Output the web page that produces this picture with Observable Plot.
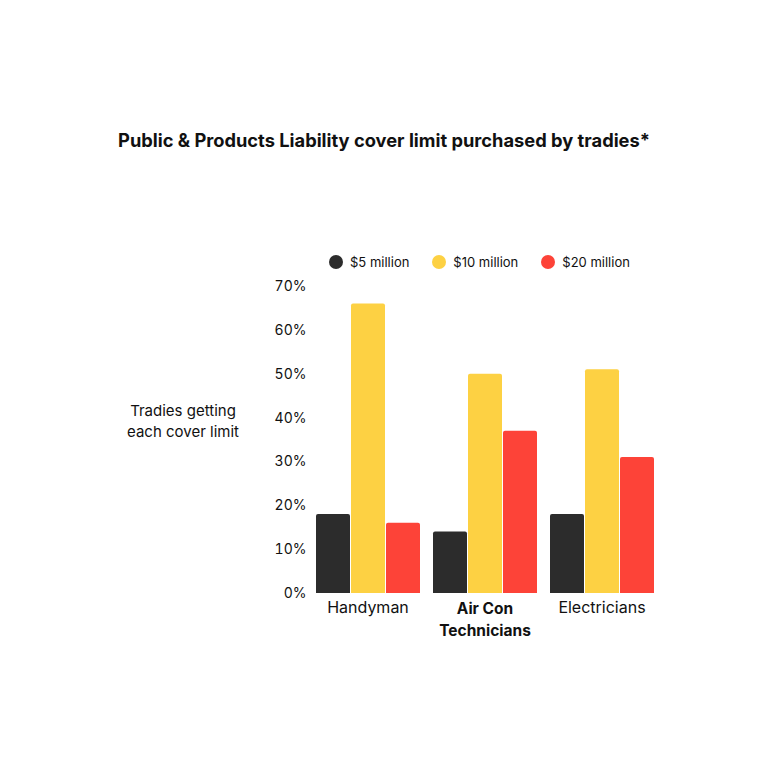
<!DOCTYPE html>
<html>
<head>
<meta charset="utf-8">
<script src="https://cdn.jsdelivr.net/npm/d3@7"></script>
<script src="https://cdn.jsdelivr.net/npm/@observablehq/plot@0.6"></script>
<style>
  html, body { margin: 0; padding: 0; background: #fff; }
  body { width: 768px; height: 768px; position: relative; overflow: hidden; font-family: Inter, "Noto Sans", sans-serif; color: #111; }
  #title { position: absolute; left: 0; width: 768px; top: 129px; text-align: center; font-size: 18.3px; font-weight: 700; }
  #legend { position: absolute; left: 329px; top: 254px; display: flex; align-items: center; font-size: 13px; }
  #legend .item { display: flex; align-items: center; margin-right: 23px; }
  #legend .dot { width: 14px; height: 14px; border-radius: 50%; margin-right: 7px; }
  #ylabel { position: absolute; left: 103px; width: 160px; top: 400px; text-align: center; font-size: 15px; line-height: 21px; }
  #chart { position: absolute; left: 0; top: 0; }
</style>
</head>
<body>
<div id="chart"></div>
<div id="title"></div>
<div id="legend"></div>
<div id="ylabel"></div>
<script>
const titleText = "Public & Products Liability cover limit purchased by tradies*";
const yLabelLines = ["Tradies getting", "each cover limit"];
const trades = ["Handyman", "Air Con Technicians", "Electricians"];
const highlighted = "Air Con Technicians";
const limits = ["$5 million", "$10 million", "$20 million"];
const colors = ["#2c2c2c", "#fdd143", "#fd4338"];
const values5m = [18, 14, 18];
const values10m = [66, 50, 51];
const values20m = [16, 37, 31];
const yTicks = [0, 10, 20, 30, 40, 50, 60, 70];

const seriesValues = [values5m, values10m, values20m];
const data = [];
trades.forEach((t, i) => {
  limits.forEach((l, j) => {
    data.push({ trade: t, limit: l, value: seriesValues[j][i] });
  });
});

document.getElementById("title").textContent = titleText;
document.getElementById("ylabel").innerHTML = yLabelLines.join("<br>");
const legend = document.getElementById("legend");
limits.forEach((l, j) => {
  const item = document.createElement("div");
  item.className = "item";
  const dot = document.createElement("span");
  dot.className = "dot";
  dot.style.background = colors[j];
  const lab = document.createElement("span");
  lab.textContent = l;
  item.appendChild(dot);
  item.appendChild(lab);
  legend.appendChild(item);
});

const fmtTrade = d => d === "Air Con Technicians" ? "Air Con\nTechnicians" : d;

const chart = Plot.plot({
  width: 768,
  height: 768,
  marginLeft: 314,
  marginRight: 113,
  marginTop: 286,
  marginBottom: 175,
  style: { fontFamily: "Inter, 'Noto Sans', sans-serif", fontSize: "14px", color: "#111", background: "transparent" },
  fx: { domain: trades, paddingInner: 0.1, paddingOuter: 0, label: null },
  x: { domain: limits, paddingInner: 0.04, paddingOuter: 0, axis: null },
  y: { domain: [0, 70], ticks: yTicks, label: null },
  color: { domain: limits, range: colors },
  marks: [
    Plot.barY(data, { fx: "trade", x: "limit", y: "value", fill: "limit", ry1: 2 }),
    Plot.axisY({ ticks: yTicks, tickFormat: d => d + "%", tickSize: 0, tickPadding: 9, label: null, fontSize: 14 }),
    Plot.axisFx({ anchor: "bottom", ticks: trades.filter(t => t !== highlighted), tickFormat: fmtTrade, tickSize: 0, tickPadding: 8, label: null, fontSize: 16 }),
    Plot.axisFx({ anchor: "bottom", ticks: [highlighted], tickFormat: fmtTrade, tickSize: 0, tickPadding: 5, label: null, fontSize: 15.5, fontWeight: "bold", lineHeight: 1.4 })
  ]
});
document.getElementById("chart").appendChild(chart);
</script>
</body>
</html>
